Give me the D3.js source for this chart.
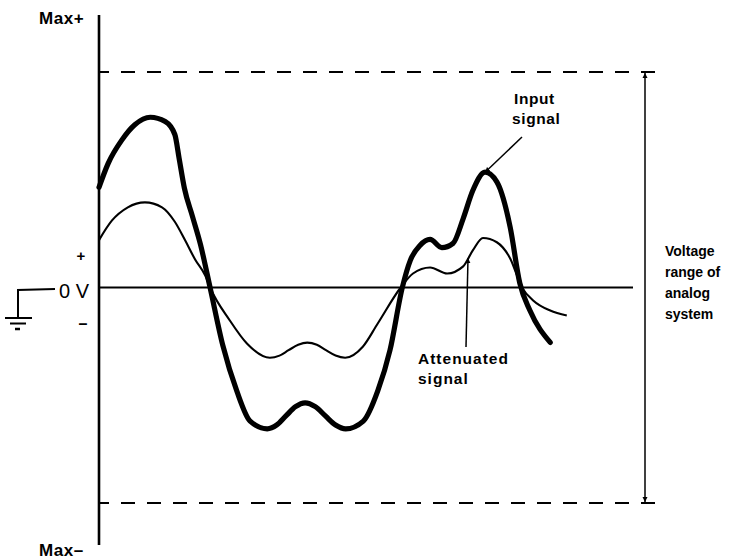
<!DOCTYPE html>
<html>
<head>
<meta charset="utf-8">
<script src="https://cdn.jsdelivr.net/npm/d3@7"></script>
<style>
  html, body { margin: 0; padding: 0; background: #fff; }
  svg { display: block; }
  text { font-family: "Liberation Sans", Arial, sans-serif; fill: #000; }
</style>
</head>
<body>
<svg id="chart" width="740" height="560"></svg>
<script>
// ---- data (time in arbitrary units, voltage in % of system max) ----
const inputTime  = [0, 1.7, 4.3, 6.7, 9.6, 12.4, 14.2, 15.0, 16.0, 17.5, 19.0, 20.8, 23.2, 25.8, 28.3, 31.5, 33.3, 35.0, 36.8, 38.6, 40.5, 42.4, 44.3, 46.2, 49.5, 52.2, 54.5, 56.8, 58.3, 60.1, 62.0, 64.2, 66.3, 68.2, 70.0, 72.3, 74.5, 77.0, 78.8, 80.7, 84.5];
const inputVolts = [46.5, 57.5, 68.5, 75.5, 79.0, 77.0, 71.0, 60.0, 46.0, 33.0, 20.0, 0, -27.0, -48.0, -62.0, -65.6, -63.8, -59.6, -55.3, -53.5, -55.3, -59.6, -63.8, -65.6, -62.0, -48.0, -29.0, 0, 12.6, 19.5, 22.3, 18.5, 20.5, 32.0, 45.0, 53.5, 49.0, 28.0, 2.0, -10.7, -25.5];

const attenTime  = [0, 2.4, 5.4, 8.6, 11.8, 14.2, 16.1, 18.0, 19.9, 20.8, 24.5, 27.7, 32.0, 33.8, 35.5, 37.3, 39.0, 40.8, 42.5, 44.3, 46.1, 49.4, 52.2, 56.5, 58.8, 62.0, 65.2, 68.2, 70.0, 71.9, 74.5, 77.0, 79.2, 81.3, 84.5, 87.6];
const attenVolts = [22.0, 31.0, 37.2, 39.5, 37.2, 30.5, 22.0, 13.0, 5.5, 0, -15.3, -26.0, -32.6, -31.6, -29.1, -26.6, -25.6, -26.6, -29.1, -31.6, -32.6, -27.5, -16.7, 0, 6.5, 9.3, 6.5, 9.8, 17.2, 23.0, 21.0, 13.5, 0, -6.0, -10.7, -13.0];

const rangeLevels = [100, -100];          // Max+ / Max- of the analog system
const zeroLevel = 0;
const axisLabels = ["Max+", "Max\u2013"];
const rangeLabel = ["Voltage", "range of", "analog", "system"];
const inputLabel = ["Input", "signal"];
const attenLabel = ["Attenuated", "signal"];

// ---- layout ----
const svg = d3.select("#chart");
const x = d3.scaleLinear().domain([0, 100]).range([99, 633]);
const y = d3.scaleLinear().domain([-100, 100]).range([503, 72]);

const defs = svg.append("defs");
defs.append("marker").attr("id", "ah").attr("viewBox", "0 0 10 10")
  .attr("refX", 10).attr("refY", 5).attr("markerWidth", 5).attr("markerHeight", 9)
  .attr("markerUnits", "userSpaceOnUse").attr("orient", "auto-start-reverse")
  .append("path").attr("d", "M0,0 L10,5 L0,10 Z").attr("fill", "#000");

// dashed range lines
svg.selectAll(".range").data(rangeLevels).join("line")
  .attr("x1", x(0)).attr("x2", 657)
  .attr("y1", d => y(d)).attr("y2", d => y(d))
  .attr("stroke", "#000").attr("stroke-width", 1.8)
  .attr("stroke-dasharray", "14,12").attr("stroke-dashoffset", 4);

// zero line
svg.append("line").attr("x1", x(0)).attr("x2", x(100))
  .attr("y1", y(zeroLevel)).attr("y2", y(zeroLevel))
  .attr("stroke", "#000").attr("stroke-width", 2.2);

// vertical axis
svg.append("line").attr("x1", x(0)).attr("x2", x(0))
  .attr("y1", 15).attr("y2", 545)
  .attr("stroke", "#000").attr("stroke-width", 2.6);

// range double arrow
svg.append("line").attr("x1", 645).attr("x2", 645)
  .attr("y1", y(rangeLevels[0]) + 1).attr("y2", y(rangeLevels[1]) - 1)
  .attr("stroke", "#000").attr("stroke-width", 1.5)
  .attr("marker-start", "url(#ah)").attr("marker-end", "url(#ah)");

// signals
const line = d3.line().x(d => x(d[0])).y(d => y(d[1])).curve(d3.curveMonotoneX);
svg.append("path").datum(d3.zip(attenTime, attenVolts))
  .attr("d", line).attr("fill", "none").attr("stroke", "#000").attr("stroke-width", 2.1)
  .attr("stroke-linejoin", "round");
svg.append("path").datum(d3.zip(inputTime, inputVolts))
  .attr("d", line).attr("fill", "none").attr("stroke", "#000").attr("stroke-width", 5.2)
  .attr("stroke-linejoin", "round").attr("stroke-linecap", "round");

// ground symbol + 0 V
const g = svg.append("g").attr("stroke", "#000").attr("stroke-width", 2).attr("fill", "none");
g.append("path").attr("d", "M55,289 L18,290 L18,318");
g.append("line").attr("x1", 5).attr("x2", 32).attr("y1", 318).attr("y2", 318);
g.append("line").attr("x1", 10).attr("x2", 26).attr("y1", 323.5).attr("y2", 323.5);
g.append("line").attr("x1", 15).attr("x2", 20).attr("y1", 329).attr("y2", 329).attr("stroke-width", 2.5);
svg.append("text").attr("x", 59).attr("y", y(zeroLevel) + 10).attr("font-size", 20)
  .text("0 V");
svg.append("text").attr("x", 81).attr("y", y(zeroLevel) - 27).attr("font-size", 15)
  .attr("text-anchor", "middle").attr("font-weight", "bold").text("+");
svg.append("text").attr("x", 83).attr("y", y(zeroLevel) + 41).attr("font-size", 16)
  .attr("text-anchor", "middle").attr("font-weight", "bold").text("\u2013");

// Max labels
svg.append("text").attr("x", 39).attr("y", 24).attr("font-size", 17).attr("letter-spacing", 0.6)
  .attr("font-weight", "bold").text(axisLabels[0]);
svg.append("text").attr("x", 39).attr("y", 556).attr("font-size", 17).attr("letter-spacing", 0.6)
  .attr("font-weight", "bold").text(axisLabels[1]);

// range label
svg.append("text").attr("font-size", 14).attr("font-weight", "bold")
  .selectAll("tspan").data(rangeLabel).join("tspan")
  .attr("x", 665).attr("y", (d, i) => 256 + i * 21).text(d => d);

// input label + arrow
svg.append("text").attr("font-size", 15.5).attr("font-weight", "bold").attr("letter-spacing", 0.6)
  .selectAll("tspan").data(inputLabel).join("tspan")
  .attr("x", (d, i) => i === 0 ? 514 : 512).attr("y", (d, i) => 104 + i * 20).text(d => d);
svg.append("line").attr("x1", 522).attr("y1", 137)
  .attr("x2", x(inputTime[35])).attr("y2", y(inputVolts[35]))
  .attr("stroke", "#000").attr("stroke-width", 1.5).attr("marker-end", "url(#ah)");

// attenuated label + arrow
svg.append("text").attr("font-size", 15.5).attr("font-weight", "bold").attr("letter-spacing", 1)
  .selectAll("tspan").data(attenLabel).join("tspan")
  .attr("x", 418).attr("y", (d, i) => 364 + i * 20).text(d => d);
svg.append("line").attr("x1", 466).attr("y1", 347).attr("x2", 468).attr("y2", 258)
  .attr("stroke", "#000").attr("stroke-width", 1.5).attr("marker-end", "url(#ah)");
</script>
</body>
</html>
